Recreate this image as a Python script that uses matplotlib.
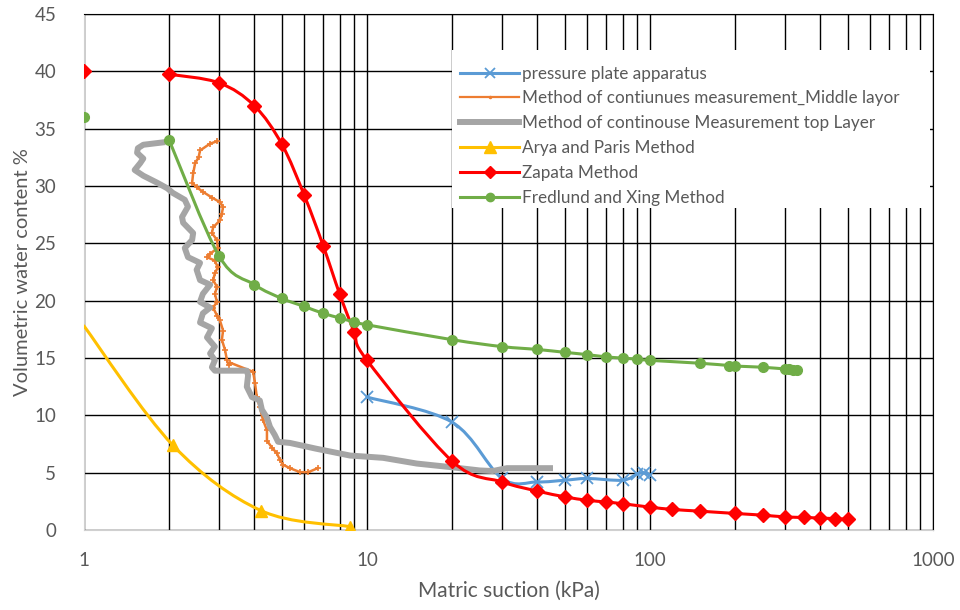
import numpy as np
import matplotlib
matplotlib.use("Agg")
import matplotlib.pyplot as plt
from matplotlib.path import Path
from matplotlib.patches import PathPatch, Rectangle
from matplotlib.lines import Line2D
from matplotlib.ticker import LogLocator, FixedLocator, NullFormatter

plt.rcParams['font.family'] = ['Lato', 'DejaVu Sans']

# ---- data ----
plate_x = [10, 20, 30, 40, 50, 60, 80, 90, 95, 100]
plate_y = [11.6, 9.4, 4.5, 4.2, 4.35, 4.5, 4.35, 4.9, 5.0, 4.8]

middle_x = [2.95, 2.79, 2.57, 2.54, 2.47, 2.43, 2.41, 2.50, 2.63, 2.83, 3.02, 3.10,
            3.07, 3.02, 2.86, 2.83, 2.95, 2.97, 2.79, 2.72, 2.90, 2.97, 2.90, 2.86,
            2.95, 2.90, 2.95, 2.86, 2.95, 3.02, 3.10, 3.07, 3.15, 3.20, 3.24, 3.28,
            3.96, 4.02, 4.08, 4.18, 4.29, 4.43, 4.43, 4.61, 4.80, 4.93, 5.05, 5.34,
            5.80, 6.20, 6.70]
middle_y = [33.9, 33.7, 33.1, 32.5, 32.0, 31.1, 30.3, 29.9, 29.5, 29.0, 28.6, 28.2,
            27.6, 27.0, 26.4, 25.9, 25.3, 24.6, 24.1, 23.8, 23.5, 22.9, 22.4, 21.8,
            21.2, 20.6, 19.9, 19.4, 18.7, 18.3, 17.4, 16.6, 15.7, 14.8, 14.4, 14.6,
            13.8, 12.8, 11.6, 10.7, 9.6, 8.7, 7.8, 7.2, 6.7, 6.1, 5.7, 5.4,
            5.05, 5.05, 5.4]

top_x = [1.89, 1.62, 1.55, 1.54, 1.62, 1.58, 1.51, 1.62, 1.81, 1.97, 2.06, 2.27,
         2.33, 2.22, 2.24, 2.43, 2.41, 2.27, 2.33, 2.57, 2.50, 2.57, 2.79, 2.63,
         2.57, 2.79, 2.63, 2.57, 2.83, 2.72, 2.90, 2.79, 2.90, 2.83, 2.90, 3.76,
         3.80, 3.76, 3.92, 4.18, 4.25, 4.43, 4.54, 4.72, 4.85, 5.34, 6.6, 8.71,
         11.4, 15.0, 19.6, 25.0, 27.8, 31.2, 35.6, 44.3]
top_y = [33.8, 33.6, 33.3, 32.9, 32.4, 32.0, 31.4, 30.9, 30.3, 29.8, 29.4, 28.8,
         28.2, 27.3, 26.8, 25.9, 25.3, 24.6, 23.8, 23.3, 22.7, 21.8, 21.4, 20.6,
         19.9, 19.4, 18.9, 18.1, 17.6, 16.8, 16.0, 15.4, 14.8, 14.2, 13.9, 13.9,
         13.5, 12.5, 11.6, 11.3, 10.5, 9.8, 9.0, 8.3, 7.7, 7.6, 7.1, 6.5,
         6.3, 5.8, 5.5, 5.2, 5.15, 5.4, 5.4, 5.4]

arya_x = [1, 2.06, 4.22, 8.7]
arya_y = [17.8, 7.4, 1.7, 0.3]

zapata_x = [1, 2, 3, 4, 5, 6, 7, 8, 9, 10, 20, 30, 40, 50, 60, 70, 80, 100,
            120, 150, 200, 250, 300, 350, 400, 450, 500]
zapata_y = [40, 39.75, 39.0, 37.0, 33.65, 29.2, 24.8, 20.6, 17.3, 14.8, 6.0, 4.2,
            3.4, 2.9, 2.6, 2.45, 2.3, 2.0, 1.8, 1.65, 1.45, 1.3, 1.15, 1.1, 1.05,
            1.0, 0.95]

fredlund_x = [1, 2, 3, 4, 5, 6, 7, 8, 9, 10, 20, 30, 40, 50, 60, 70, 80, 90, 100,
              150, 190, 200, 250, 300, 310, 320, 330]
fredlund_y = [36, 34, 23.9, 21.4, 20.2, 19.5, 18.9, 18.5, 18.15, 17.9, 16.6, 16.0,
              15.75, 15.5, 15.3, 15.1, 15.0, 14.9, 14.8, 14.55, 14.35, 14.3, 14.2,
              14.05, 14.05, 14.0, 14.0]

labels = ['pressure plate apparatus',
          'Method of contiunues measurement_Middle layor',
          'Method of continouse Measurement top Layer',
          'Arya and Paris Method',
          'Zapata Method',
          'Fredlund and Xing Method']


def smooth(ax, x, y, color, lw, z):
    # Excel-style smoothed line: Catmull-Rom bezier in log-x space
    p = np.column_stack([np.log10(x), y])
    n = len(p)
    verts = [p[0]]
    codes = [Path.MOVETO]
    for i in range(n - 1):
        p0 = p[i - 1] if i > 0 else p[i]
        p3 = p[i + 2] if i + 2 < n else p[i + 1]
        c1 = p[i] + (p[i + 1] - p0) / 6
        c2 = p[i + 1] - (p3 - p[i]) / 6
        verts += [c1, c2, p[i + 1]]
        codes += [Path.CURVE4] * 3
    verts = np.array(verts)
    verts[:, 0] = 10 ** verts[:, 0]
    ax.add_patch(PathPatch(Path(verts, codes), fill=False, ec=color, lw=lw,
                           zorder=z, capstyle='round', joinstyle='round'))


fig = plt.figure(figsize=(9.6, 6.1), dpi=100)
ax = fig.add_axes([0.0875, 0.131, 0.8845, 0.846])
ax.set_xscale('log')
ax.set_xlim(1, 1000)
ax.set_ylim(0, 45)

blue, orange, gray = '#5B9BD5', '#ED7D31', '#A5A5A5'
yellow, red, green = '#FFC000', '#FF0000', '#70AD47'

smooth(ax, plate_x, plate_y, blue, 2.2, 3)
ax.plot(plate_x, plate_y, ls='none', marker='x', ms=8, mew=1.3, color=blue, zorder=3)

ax.plot(middle_x, middle_y, color=orange, lw=1.8, marker='+', ms=5, mew=1.2, zorder=4)
ax.plot(top_x, top_y, color=gray, lw=4.3, zorder=5, solid_joinstyle='round')

smooth(ax, arya_x, arya_y, yellow, 2.2, 6)
ax.plot(arya_x[1:], arya_y[1:], ls='none', marker='^', ms=9, color=yellow, zorder=6)

smooth(ax, zapata_x[1:], zapata_y[1:], red, 2.2, 7)
ax.plot(zapata_x, zapata_y, ls='none', marker='D', ms=7.5, color=red, zorder=7)

smooth(ax, fredlund_x[1:], fredlund_y[1:], green, 2.2, 8)
ax.plot(fredlund_x, fredlund_y, ls='none', marker='o', ms=7, color=green, zorder=8)

# axes styling
ax.xaxis.set_major_locator(FixedLocator([1, 10, 100, 1000]))
ax.set_xticklabels(['1', '10', '100', '1000'])
ax.xaxis.set_minor_locator(LogLocator(base=10, subs=np.arange(2, 10)))
ax.xaxis.set_minor_formatter(NullFormatter())
ax.set_yticks(np.arange(0, 46, 5))
ax.grid(True, which='both', axis='x', color='black', lw=1.0)
ax.grid(True, which='major', axis='y', color='black', lw=1.0)
ax.set_axisbelow(True)
ax.tick_params(which='both', length=0, labelsize=13.5, colors='#595959')
ax.tick_params(axis='x', pad=16)
ax.tick_params(axis='y', pad=20)
for s in ['left', 'bottom']:
    ax.spines[s].set_color('#D0D0D0')
for s in ['top', 'right']:
    ax.spines[s].set_color('black')

ax.set_xlabel('Matric suction (kPa)', fontsize=15, color='#595959', labelpad=8)
ax.set_ylabel('Volumetric water content %', fontsize=14.5, color='#595959', labelpad=2)

# white legend area
ax.add_patch(Rectangle((0.4334, 0.624), 0.5631, 0.306, transform=ax.transAxes,
                       facecolor='white', edgecolor='none', zorder=19))

handles = [
    Line2D([], [], color=blue, lw=2.2, marker='x', ms=7, mew=1.3),
    Line2D([], [], color=orange, lw=1.6, marker='.', ms=3),
    Line2D([], [], color=gray, lw=4.3),
    Line2D([], [], color=yellow, lw=2.2, marker='^', ms=8),
    Line2D([], [], color=red, lw=2.2, marker='D', ms=6),
    Line2D([], [], color=green, lw=2.2, marker='o', ms=6),
]
leg = ax.legend(handles, labels, loc='upper left', bbox_to_anchor=(0.4334, 0.915),
                frameon=False, fontsize=12.3, labelcolor='#595959',
                handlelength=3.5, handletextpad=0.15, labelspacing=0.52,
                borderpad=0.45, borderaxespad=0)
leg.set_zorder(20)

fig.savefig('out.png', dpi=100)
